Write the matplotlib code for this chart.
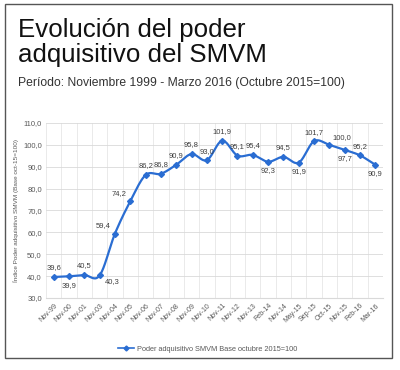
import numpy as np
import matplotlib
matplotlib.use("Agg")
import matplotlib.pyplot as plt
from matplotlib.patches import Rectangle
from matplotlib.lines import Line2D

plt.rcParams['font.family'] = ['Liberation Sans', 'DejaVu Sans']

categories = ["Nov-99", "Nov-00", "Nov-01", "Nov-03", "Nov-04", "Nov-05", "Nov-06",
              "Nov-07", "Nov-08", "Nov-09", "Nov-10", "Nov-11", "Nov-12", "Nov-13",
              "Feb-14", "Nov-14", "May-15", "Sep-15", "Oct-15", "Nov-15", "Feb-16", "Mar-16"]
values = [39.6, 39.9, 40.5, 40.3, 59.4, 74.2, 86.2, 86.8, 90.9, 95.8, 93.0,
          101.9, 95.1, 95.4, 92.3, 94.5, 91.9, 101.7, 100.0, 97.7, 95.2, 90.9]
label_pos = ['a', 'b', 'a', 'br', 'al', 'al', 'a', 'a', 'a', 'a', 'a',
             'a', 'a', 'a', 'b', 'a', 'b', 'a', 'ar', 'b', 'a', 'b']

title1 = "Evolución del poder"
title2 = "adquisitivo del SMVM"
subtitle = "Período: Noviembre 1999 - Marzo 2016 (Octubre 2015=100)"
ylabel = "Índice Poder adquisitivo SMVM (Base oct-15=100)"
legend_label = "Poder adquisitivo SMVM Base octubre 2015=100"
yticks = [30, 40, 50, 60, 70, 80, 90, 100, 110]

BLUE = "#2A6DD2"
GRAY = "#595959"

def catmull_rom(x, y, n=20):
    x = np.asarray(x, float); y = np.asarray(y, float)
    px = np.concatenate([[2*x[0]-x[1]], x, [2*x[-1]-x[-2]]])
    py = np.concatenate([[2*y[0]-y[1]], y, [2*y[-1]-y[-2]]])
    xs, ys = [], []
    t = np.linspace(0, 1, n, endpoint=False)
    for i in range(1, len(px)-2):
        p0, p1, p2, p3 = py[i-1], py[i], py[i+1], py[i+2]
        q0, q1, q2, q3 = px[i-1], px[i], px[i+1], px[i+2]
        f = lambda a0, a1, a2, a3: 0.5*((2*a1) + (-a0+a2)*t + (2*a0-5*a1+4*a2-a3)*t**2 + (-a0+3*a1-3*a2+a3)*t**3)
        xs.append(f(q0, q1, q2, q3)); ys.append(f(p0, p1, p2, p3))
    xs.append([x[-1]]); ys.append([y[-1]])
    return np.concatenate(xs), np.concatenate(ys)

fig = plt.figure(figsize=(4.0, 3.7), dpi=100)
fig.patches.append(Rectangle((5/400, 1-358/370), 387/400, 354/370, transform=fig.transFigure,
                             fill=False, edgecolor="#555555", lw=1.0))

fig.text(18/400, 1-37/370, title1, fontsize=18.6, color="#111111", va='baseline', ha='left')
fig.text(18/400, 1-62/370, title2, fontsize=18.6, color="#111111", va='baseline', ha='left')
fig.text(18/400, 1-86/370, subtitle, fontsize=8.7, color="#333333", va='baseline', ha='left')

ax = fig.add_axes([46/400, 1-298/370, 337/400, 175/370])
x = np.arange(len(values))
sx, sy = catmull_rom(x, values)
ax.plot(sx, sy, color=BLUE, lw=1.6, zorder=3)
ax.plot(x, values, linestyle='none', marker='D', ms=3, color=BLUE, zorder=4)

for xi, v, p in zip(x, values, label_pos):
    txt = f"{v:.1f}".replace('.', ',')
    dx, dy, ha, va = 0, 4, 'center', 'bottom'
    if p == 'b':
        dy, va = -4, 'top'
    elif p == 'br':
        dx, dy, ha, va = 4, -2, 'left', 'top'
    elif p == 'al':
        dx, dy, ha, va = -3, 3, 'right', 'bottom'
    elif p == 'ar':
        dx, dy, ha, va = 2, 3, 'left', 'bottom'
    ax.annotate(txt, (xi, v), xytext=(dx, dy), textcoords='offset points',
                ha=ha, va=va, fontsize=5.5, color="#404040", zorder=5)

ax.set_xlim(-0.5, len(values)-0.5)
ax.set_ylim(30, 110)
ax.set_yticks(yticks)
ax.set_yticklabels([f"{t:.1f}".replace('.', ',') for t in yticks], fontsize=5.5, color=GRAY)
ax.set_xticks(x)
ax.set_xticklabels(categories, rotation=45, ha='right', rotation_mode='anchor', fontsize=5.0, color=GRAY)
ax.set_xticks(np.arange(len(values)+1)-0.5, minor=True)
ax.tick_params(axis='both', which='both', length=0, pad=3)
ax.grid(axis='y', which='major', color="#D9D9D9", lw=0.6)
ax.grid(axis='x', which='minor', color="#E6E6E6", lw=0.6)
for s in ['top', 'right', 'left']:
    ax.spines[s].set_visible(False)
ax.spines['bottom'].set_color("#D9D9D9")
ax.set_axisbelow(True)
ax.set_ylabel(ylabel, fontsize=4.6, color=GRAY, labelpad=3)

handle = Line2D([], [], color=BLUE, lw=1.2, marker='D', ms=2.5)
fig.legend([handle], [legend_label], loc='center', bbox_to_anchor=(208/400, 1-349/370),
           frameon=False, fontsize=5.3, handlelength=2.2, handletextpad=0.4, labelcolor=GRAY)

fig.savefig("out.png", dpi=100)
